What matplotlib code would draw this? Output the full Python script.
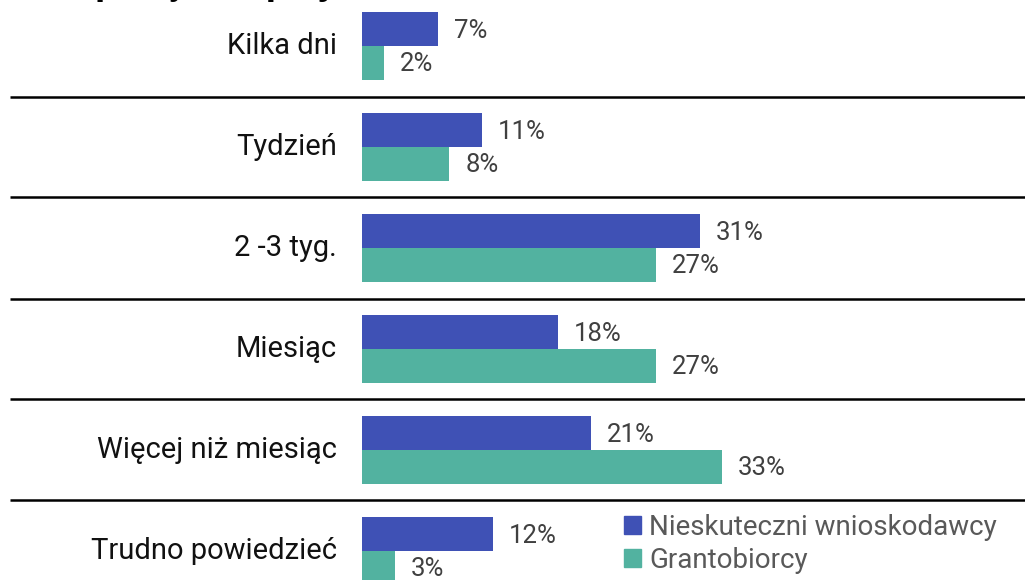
import matplotlib
matplotlib.use("Agg")
import matplotlib.pyplot as plt
from matplotlib.patches import Patch
from matplotlib.transforms import offset_copy
import numpy as np

plt.rcParams['font.family'] = ['Roboto', 'DejaVu Sans']

title = "Czas pracy nad projektem"
categories = ["Kilka dni", "Tydzień", "2 -3 tyg.", "Miesiąc", "Więcej niż miesiąc", "Trudno powiedzieć"]
series_names = ["Nieskuteczni wnioskodawcy", "Grantobiorcy"]
nieskuteczni = [7, 11, 31, 18, 21, 12]
grantobiorcy = [2, 8, 27, 27, 33, 3]

colors = ["#3F51B5", "#52B2A0"]

W, H = 1025, 580
fig = plt.figure(figsize=(W / 100, H / 100), dpi=100)
ax = fig.add_axes([0, 0, 1, 1])

px_per_pct = 10.9
x0_px = 362
row_px = 101
row0_px = 46
ax.set_xlim(-x0_px / px_per_pct, (W - x0_px) / px_per_pct)
ax.set_ylim((H - row0_px) / row_px, -row0_px / row_px)
ax.axis('off')

y = np.arange(len(categories))
h = 34 / row_px
ax.barh(y - h / 2, nieskuteczni, height=h, color=colors[0], label=series_names[0])
ax.barh(y + h / 2, grantobiorcy, height=h, color=colors[1], label=series_names[1])

lbl_tr = offset_copy(ax.transData, fig=fig, x=16, y=0, units='dots')
for i, (a, b) in enumerate(zip(nieskuteczni, grantobiorcy)):
    ax.text(a, i - h / 2 + 0.02, f"{a}%", transform=lbl_tr, ha='left', va='center',
            fontsize=18.5, color='#404040')
    ax.text(b, i + h / 2 + 0.01, f"{b}%", transform=lbl_tr, ha='left', va='center',
            fontsize=18.5, color='#404040')

cat_tr = offset_copy(ax.transData, fig=fig, x=-25, y=0, units='dots')
for i, c in enumerate(categories):
    ax.text(0, i, c, transform=cat_tr, ha='right', va='center', fontsize=21, color='#111111')

xl = ax.get_xlim()
ax.hlines(y[:-1] + 0.5, (10 - x0_px) / px_per_pct, xl[1], color='black', lw=1.8)

fig.text(0.005, 1 + 6 / H, title, ha='left', va='baseline', fontsize=26.5,
         fontweight='bold', color='black')

handles = [Patch(color=colors[0]), Patch(color=colors[1])]
fig.legend(handles, series_names, loc='upper left',
           bbox_to_anchor=(624 / W, 1 - 514 / H), frameon=False, fontsize=20,
           labelcolor='#595959', handlelength=0.6, handleheight=0.6,
           handletextpad=0.3, labelspacing=0.2, borderpad=0, borderaxespad=0)

fig.savefig("out.png", dpi=100)
